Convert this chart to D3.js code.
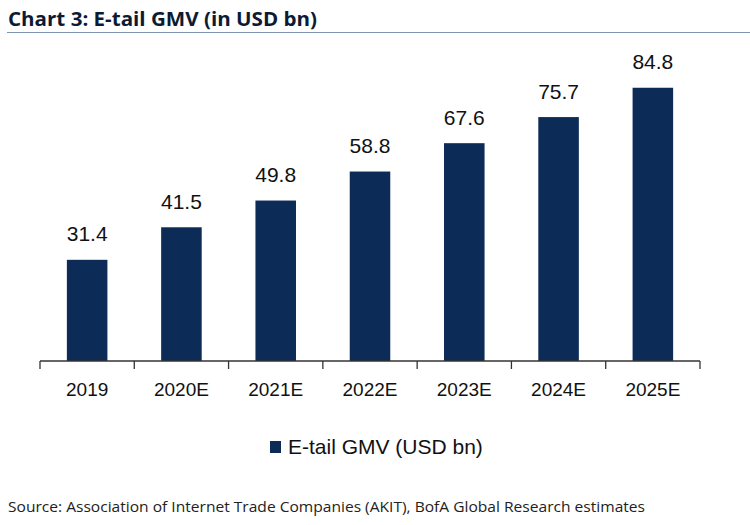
<!DOCTYPE html>
<html><head><meta charset="utf-8">
<script src="https://cdn.jsdelivr.net/npm/d3@7"></script>
<style>body{margin:0;background:#fff}</style>
</head><body>
<script>
const categories = ["2019","2020E","2021E","2022E","2023E","2024E","2025E"];
const values = [31.4, 41.5, 49.8, 58.8, 67.6, 75.7, 84.8];
const seriesName = "E-tail GMV (USD bn)";
const title = "Chart 3: E-tail GMV (in USD bn)";
const source = "Source: Association of Internet Trade Companies (AKIT), BofA Global Research estimates";

const W = 750, H = 525, barColor = "#0d2b57";
const svg = d3.select("body").append("svg").attr("width", W).attr("height", H);

// title + rule
svg.append("text").attr("x", 8).attr("y", 26).text(title)
  .attr("font-family", "Open Sans, sans-serif").attr("font-weight", "bold").attr("font-size", 19)
  .attr("fill", "#0c1a33").attr("textLength", 309).attr("lengthAdjust", "spacingAndGlyphs");
svg.append("line").attr("x1", 7).attr("x2", W).attr("y1", 32.5).attr("y2", 32.5)
  .attr("stroke", "#7f93b3").attr("stroke-width", 1.2);

const x0 = 40, x1 = 700;
const x = d3.scaleBand().domain(categories).range([x0, x1]).paddingInner(0.57).paddingOuter(0.285);
const y = d3.scaleLinear().domain([0, 90]).range([361, 71]);

svg.selectAll("rect.bar").data(values).join("rect").attr("class", "bar")
  .attr("x", (d, i) => x(categories[i])).attr("width", x.bandwidth())
  .attr("y", d => y(d)).attr("height", d => y(0) - y(d)).attr("fill", barColor);

svg.selectAll("text.val").data(values).join("text").attr("class", "val")
  .attr("x", (d, i) => x(categories[i]) + x.bandwidth() / 2).attr("y", d => y(d) - 18.5)
  .attr("text-anchor", "middle").attr("font-family", "Liberation Sans, Arial, sans-serif")
  .attr("font-size", 21).attr("fill", "#111").text(d => d.toFixed(1));

// axis
const ax = svg.append("g").attr("transform", `translate(0,${y(0)})`);
ax.append("line").attr("x1", x0).attr("x2", x1).attr("stroke", "#333").attr("stroke-width", 1.3);
const step = x.step();
const tickPos = d3.range(categories.length + 1).map(i => x0 + i * step);
ax.selectAll("line.tk").data(tickPos).join("line").attr("class", "tk")
  .attr("x1", d => d).attr("x2", d => d).attr("y1", 0).attr("y2", 8)
  .attr("stroke", "#333").attr("stroke-width", 1.3);
ax.selectAll("text.cat").data(categories).join("text").attr("class", "cat")
  .attr("x", d => x(d) + x.bandwidth() / 2).attr("y", 35)
  .attr("text-anchor", "middle").attr("font-family", "Liberation Sans, Arial, sans-serif")
  .attr("font-size", 19).attr("fill", "#111").text(d => d);

// legend
const lg = svg.append("g").attr("transform", "translate(270,441)");
lg.append("rect").attr("width", 11).attr("height", 12).attr("fill", barColor);
lg.append("text").attr("x", 18).attr("y", 12.5).attr("font-family", "Liberation Sans, Arial, sans-serif")
  .attr("font-size", 21).attr("fill", "#111").text(seriesName);

// source
svg.append("text").attr("x", 8).attr("y", 512).text(source)
  .attr("font-family", "Open Sans, sans-serif").attr("font-size", 15).attr("fill", "#222")
  .attr("textLength", 637).attr("lengthAdjust", "spacingAndGlyphs");
</script>
</body></html>
